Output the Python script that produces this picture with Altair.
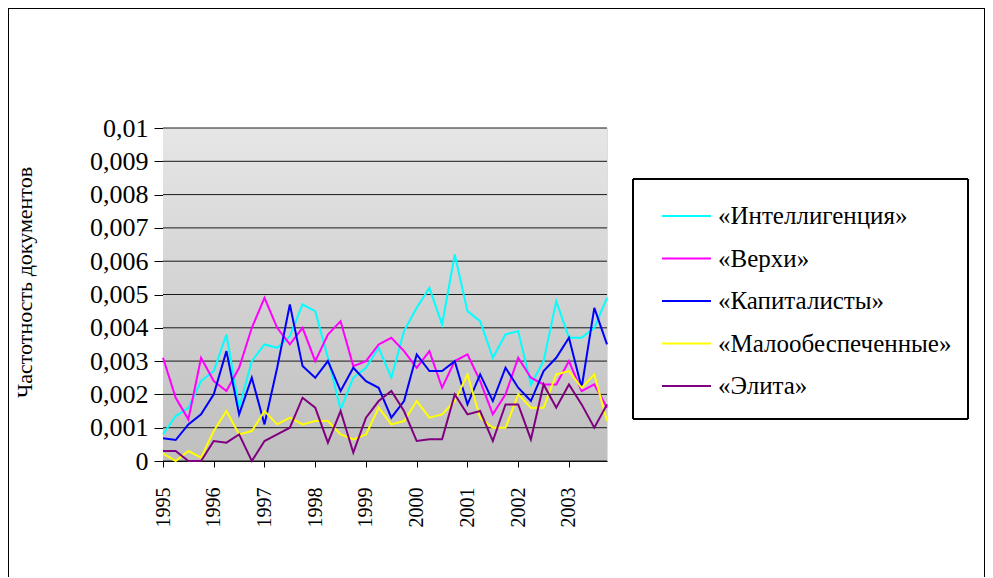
import altair as alt
import pandas as pd

# ---- data (quarterly, 1995 Q1 .. 2003 Q4) ----
years = [1995, 1996, 1997, 1998, 1999, 2000, 2001, 2002, 2003]
series_names = ["«Интеллигенция»", "«Верхи»", "«Капиталисты»", "«Малообеспеченные»", "«Элита»"]
series_colors = ["#00FFFF", "#FF00FF", "#0000FF", "#FFFF00", "#800080"]

intelligentsia = [0.0008, 0.00135, 0.0016, 0.0024, 0.0027, 0.0038, 0.0016, 0.0030, 0.0035, 0.0034,
                  0.00375, 0.0047, 0.0045, 0.0031, 0.00155, 0.0025, 0.0028, 0.0034, 0.0025, 0.0039,
                  0.0046, 0.0052, 0.0041, 0.0062, 0.0045, 0.0042, 0.0031, 0.0038, 0.0039, 0.0023,
                  0.0030, 0.0048, 0.0037, 0.0037, 0.0040, 0.0049]
verkhi = [0.0031, 0.0019, 0.00125, 0.0031, 0.0024, 0.0021, 0.0028, 0.0040, 0.0049, 0.0040,
          0.0035, 0.0040, 0.0030, 0.0038, 0.0042, 0.00285, 0.0030, 0.0035, 0.0037, 0.0033,
          0.0028, 0.0033, 0.0022, 0.0030, 0.0032, 0.0024, 0.0014, 0.0020, 0.0031, 0.0025,
          0.0023, 0.0023, 0.0030, 0.0021, 0.0023, 0.0016]
capitalists = [0.00068, 0.00063, 0.0011, 0.0014, 0.0020, 0.0033, 0.0014, 0.0025, 0.0011, 0.0028,
               0.0047, 0.00285, 0.0025, 0.0030, 0.0021, 0.0028, 0.0024, 0.0022, 0.0013, 0.0018,
               0.0032, 0.0027, 0.0027, 0.0030, 0.0017, 0.0026, 0.0018, 0.0028, 0.0022, 0.0018,
               0.0027, 0.0031, 0.0037, 0.0022, 0.0046, 0.0035]
poor = [0.00023, 0.0, 0.0003, 0.0001, 0.0009, 0.0015, 0.0008, 0.0009, 0.0015, 0.0011,
        0.0013, 0.0011, 0.0012, 0.0012, 0.0008, 0.00065, 0.0008, 0.0016, 0.0011, 0.0012,
        0.0018, 0.0013, 0.0014, 0.0018, 0.0026, 0.0013, 0.0010, 0.0010, 0.0020, 0.0016,
        0.0016, 0.0026, 0.0027, 0.0022, 0.0026, 0.0012]
elite = [0.0003, 0.0003, 0.0, 0.0, 0.0006, 0.00055, 0.0008, 0.0, 0.0006, 0.0008,
         0.0010, 0.0019, 0.0016, 0.00055, 0.0015, 0.00025, 0.0013, 0.0018, 0.0021, 0.0015,
         0.0006, 0.00065, 0.00065, 0.0020, 0.0014, 0.0015, 0.0006, 0.0017, 0.0017, 0.00065,
         0.0023, 0.0016, 0.0023, 0.0017, 0.0010, 0.0017]
y_ticks = [0, 0.001, 0.002, 0.003, 0.004, 0.005, 0.006, 0.007, 0.008, 0.009, 0.01]

all_series = [intelligentsia, verkhi, capitalists, poor, elite]
rows = []
for name, vals in zip(series_names, all_series):
    for i, v in enumerate(vals):
        rows.append({"t": years[0] + i / 4.0, "series": name, "value": v})
df = pd.DataFrame(rows)
grid_df = pd.DataFrame({"v": y_ticks})

SERIF = "Liberation Serif"
W, H = 444, 333

x_scale = alt.Scale(domain=[years[0], years[-1] + 0.75], nice=False, zero=False)
y_scale = alt.Scale(domain=[0, 0.01], nice=False)

y_axis = alt.Axis(values=y_ticks, format="~g",
                  labelExpr="replace(datum.label, '.', ',')",
                  labelFont=SERIF, labelFontSize=26, labelColor="black",
                  labelPadding=6, tickSize=9, tickColor="black",
                  domainColor="black", grid=False,
                  title="Частотность документов", titleFont=SERIF,
                  titleFontSize=22, titleFontWeight="normal", titleColor="black",
                  titleAngle=-90, titleX=-139, titleY=154,
                  titleAlign="center", titleBaseline="middle",
                  labelFlush=False, labelOverlap=False)

# gradient plot background
bg = alt.Chart(grid_df).mark_rect(
    fill=alt.Gradient(
        gradient="linear",
        stops=[alt.GradientStop(color="#e6e6e6", offset=0),
               alt.GradientStop(color="#bfbfbf", offset=1)],
        x1=0, x2=0, y1=0, y2=1,
    )
).encode(
    x=alt.value(0), x2=alt.value("width"), y=alt.value(0), y2=alt.value("height")
)

# horizontal gridlines
grid = alt.Chart(grid_df).mark_rule(color="#1a1a1a", strokeWidth=1).encode(
    y=alt.Y("v:Q", scale=y_scale, axis=y_axis, title="Частотность документов")
)

lines = alt.Chart(df).mark_line(strokeWidth=2).encode(
    x=alt.X("t:Q", scale=x_scale,
            axis=alt.Axis(values=years, format="d", labelAngle=-90, labelFont=SERIF,
                          labelFontSize=20, labelColor="black", labelPadding=20,
                          tickSize=6, tickColor="black", domainColor="black",
                          grid=False, title=None, labelFlush=False, labelOverlap=False)),
    y=alt.Y("value:Q", scale=y_scale, axis=y_axis, title="Частотность документов"),
    color=alt.Color("series:N",
                    scale=alt.Scale(domain=series_names, range=series_colors),
                    sort=series_names,
                    legend=alt.Legend(orient="none", legendX=498, legendY=78, title=None,
                                      labelFont=SERIF, labelFontSize=25, labelColor="black",
                                      symbolType="stroke", symbolSize=2400,
                                      symbolStrokeWidth=2, labelOffset=6,
                                      clipHeight=20, rowPadding=17.5, padding=0,
                                      labelLimit=400)),
)

# legend frame and outer chart frame (decorations)
legend_frame = alt.Chart(grid_df).mark_rect(fill=None, stroke="black", strokeWidth=1).encode(
    x=alt.value(470), x2=alt.value(805), y=alt.value(51), y2=alt.value(291)
)
outer_frame = alt.Chart(grid_df).mark_rect(fill=None, stroke="black", strokeWidth=1).encode(
    x=alt.value(-154.5), x2=alt.value(821.5), y=alt.value(-119.5), y2=alt.value(480)
)

chart = alt.layer(bg, grid, lines, legend_frame, outer_frame).properties(
    width=W, height=H,
    padding={"left": 155, "top": 120, "right": 378, "bottom": 116},
    autosize=alt.AutoSizeParams(type="none"),
).configure_view(
    stroke="#808080", strokeWidth=1
).configure_axis(
    labelFont=SERIF, titleFont=SERIF
).configure_legend(
    labelFont=SERIF
).configure(background="white", font=SERIF)

chart.save("out.html", embed_options={"renderer": "svg", "actions": False})
